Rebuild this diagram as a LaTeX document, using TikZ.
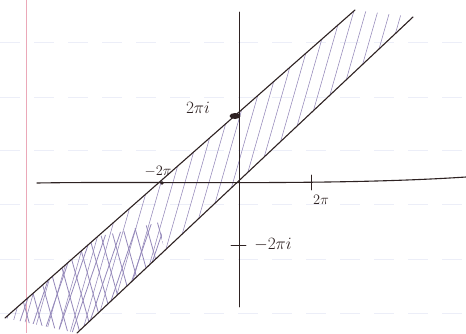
\documentclass[tikz,border=0pt]{standalone}
\definecolor{inkc}{HTML}{2E2222}
\definecolor{hatchc}{HTML}{9488BA}
\definecolor{marginc}{HTML}{EBA8B8}
\definecolor{rulec}{HTML}{ECEEF8}
\begin{document}
\begin{tikzpicture}[x=1pt,y=-1pt,
  ink/.style={draw=inkc, line width=1.1pt, line cap=round},
  thinink/.style={draw=inkc, line width=0.9pt, line cap=round},
  hatch/.style={draw=hatchc, line width=0.55pt, line cap=round},
  ruleline/.style={draw=rulec, line width=0.6pt, dash pattern=on 20pt off 14pt},
  marginline/.style={draw=marginc, line width=0.8pt},
  lbl/.style={text=inkc, inner sep=0pt}]
\useasboundingbox (0,0) rectangle (466,333);
\fill[white] (0,0) rectangle (466,333);
% notebook paper
\foreach \y in {42,97,150,204,259,313} \draw[ruleline] (0,\y) -- (466,\y);
\draw[marginline] (26,0) -- (26,333);
% hatching inside the strip
\begin{scope}
  \clip (5,318) -- (355,10) -- (413,17) -- (77,333) -- cycle;
  \foreach \x in {0,12,...,480} \draw[hatch] (\x-50,333) -- (\x+45,0);
  \begin{scope}
    \clip (0,333) -- (0,262) -- (60,244) -- (120,232) -- (160,222) -- (175,333) -- cycle;
    \foreach \x in {20,32,...,190} \draw[hatch, line width=0.8pt] (\x+12,333) -- (\x-22,210);
    \foreach \x in {22,36,...,180} \draw[hatch, line width=0.8pt] (\x-20,333) -- (\x+22,210);
  \end{scope}
\end{scope}
% strip boundaries
\coordinate (u1) at (5,318);
\coordinate (u2) at (355,10);
\coordinate (l1) at (77,333);
\coordinate (l2) at (413,17);
\draw[ink] (u1) -- (u2);
\draw[ink] (l1) -- (l2);
% axes
\coordinate (xa) at (37,183);
\coordinate (xb) at (466,177);
\coordinate (ya) at (239,12);
\coordinate (yb) at (239,307);
\draw[ink] (xa) .. controls (150,181) and (330,186) .. (xb);
\draw[thinink] (ya) -- (yb);
% ticks
\coordinate (t1) at (311,175);
\coordinate (t2) at (311,190);
\draw[thinink] (t1) -- (t2);
\coordinate (t3) at (231,245);
\coordinate (t4) at (246,245);
\draw[thinink] (t3) -- (t4);
\fill[inkc] (162,183) circle (1.8pt);
\fill[inkc] (235,116) ellipse (5.5pt and 3pt);
% labels
\node[lbl, font=\fontsize{16}{18}\selectfont] (l2pii) at (198,108) {$2\pi i$};
\node[lbl, font=\fontsize{15}{17}\selectfont] (lm2pi) at (158,171) {$-2\pi$};
\node[lbl, font=\fontsize{15}{17}\selectfont] (l2pi) at (321,200) {$2\pi$};
\node[lbl, font=\fontsize{17}{19}\selectfont] (lm2pii) at (273,245) {$-2\pi i$};
\end{tikzpicture}
\end{document}
